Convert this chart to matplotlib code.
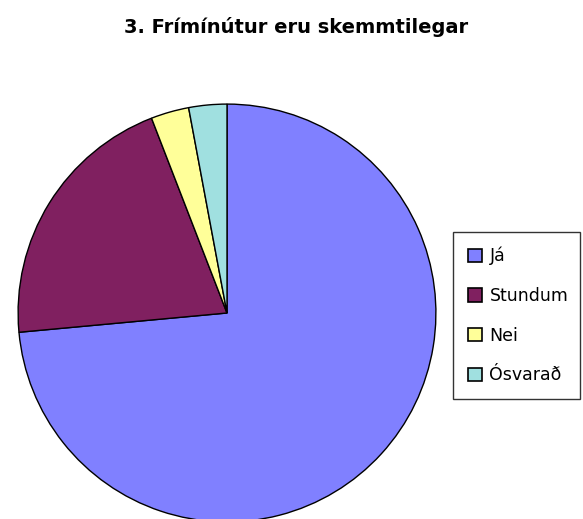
import matplotlib
matplotlib.use("Agg")
import matplotlib.pyplot as plt
from matplotlib.patches import Patch

labels = ["Já", "Stundum", "Nei", "Ósvarað"]
counts = [25, 7, 1, 1]
colors = ["#8080FF", "#802060", "#FFFF99", "#A0E0E0"]
title = "3. Frímínútur eru skemmtilegar"

fig = plt.figure(figsize=(5.83, 5.19), dpi=100)
fig.patch.set_facecolor("white")

# pie axes: centre ~ (227, 313) px, radius ~ 211 px
ax = fig.add_axes([16 / 583, (519 - 313 - 211) / 519, 422 / 583, 422 / 519])
ax.pie(counts, colors=colors, startangle=90, counterclock=False, radius=1,
       wedgeprops=dict(edgecolor="black", linewidth=1.0))
ax.set_xlim(-1.01, 1.01)
ax.set_ylim(-1.01, 1.01)
ax.set_aspect("equal")
ax.axis("off")

fig.text(296 / 583, 1 - 33 / 519, title, ha="center", va="baseline",
         fontsize=14, fontweight="bold", family="DejaVu Sans")

handles = [Patch(facecolor=c, edgecolor="black", linewidth=1.2) for c in colors]
leg = fig.legend(handles, labels, loc="upper left", mode="expand",
                 bbox_to_anchor=(453 / 583, 1 - 400 / 519, 127 / 583, 168 / 519),
                 frameon=True, fancybox=False, edgecolor="black",
                 prop={"family": "DejaVu Sans", "size": 12.5},
                 handlelength=0.8, handleheight=0.8, handletextpad=0.45,
                 labelspacing=1.25, borderpad=0.85, borderaxespad=0)
leg.get_frame().set_linewidth(1.0)

fig.savefig("out.png", dpi=100)
